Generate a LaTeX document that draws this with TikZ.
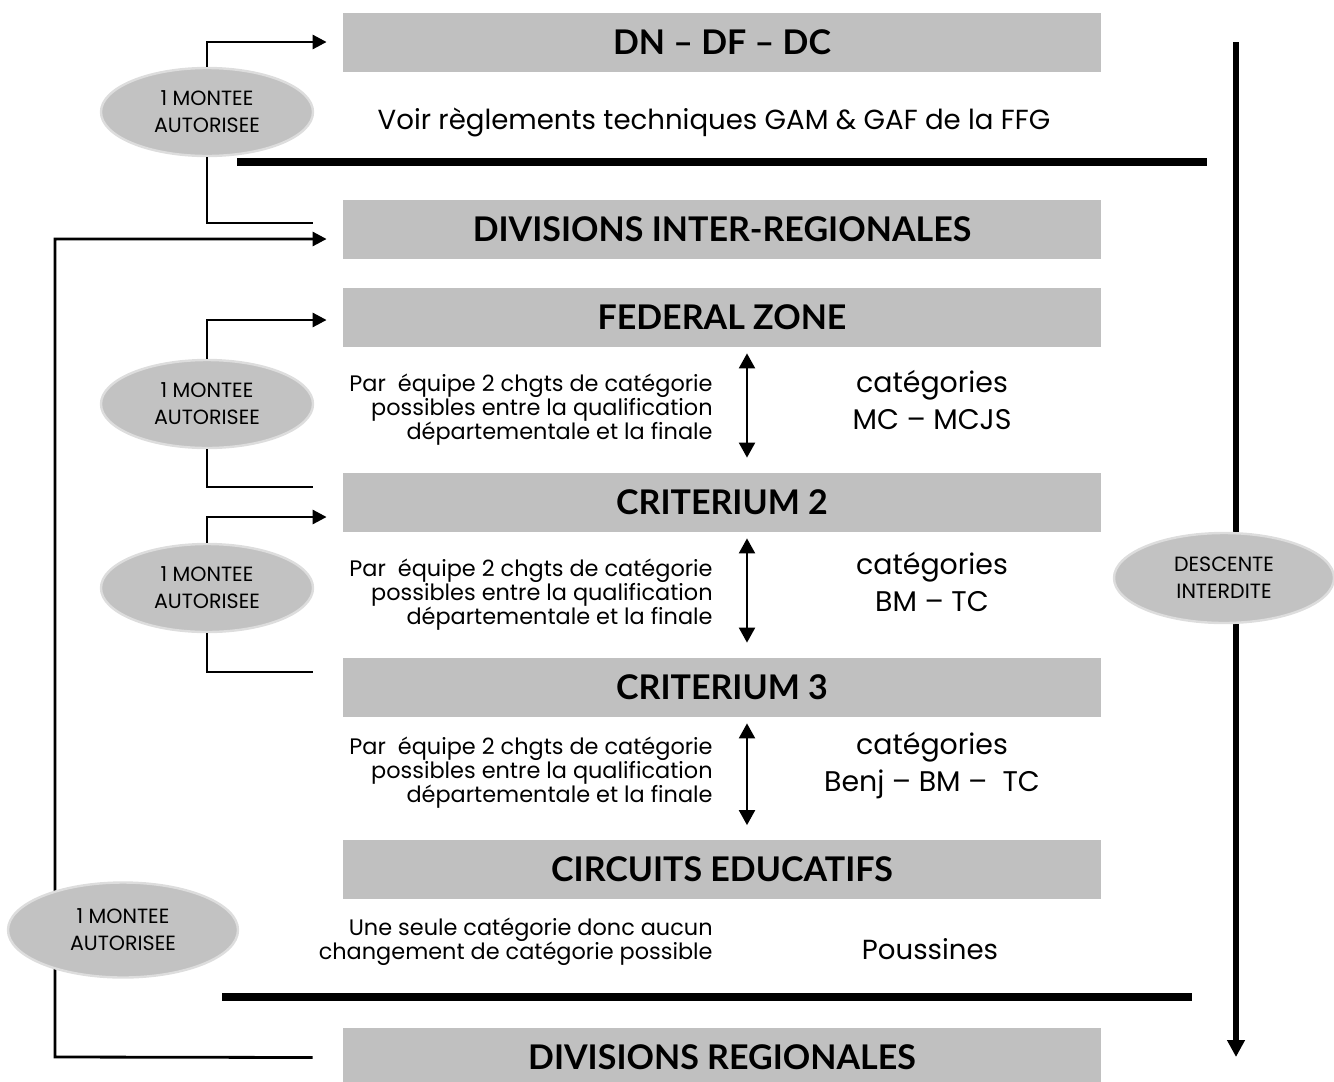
\documentclass[tikz,border=0pt]{standalone}
\usepackage{fontspec}
\setmainfont{Poppins}
\newfontfamily\titlefont{Lato}
\usetikzlibrary{arrows.meta,shapes.geometric}
\definecolor{barg}{HTML}{C0C0C0}
\definecolor{elg}{HTML}{C2C2C2}
\definecolor{elb}{HTML}{DDDDDD}
\begin{document}
\begin{tikzpicture}[x=0.5pt,y=-0.5pt,
 bar/.style={fill=barg,minimum width=379pt,minimum height=29.5pt,inner sep=0pt,font=\titlefont\bfseries\fontsize{17}{20}\selectfont},
 oval/.style={ellipse,fill=elg,draw=elb,line width=1.2pt,minimum width=106pt,minimum height=44pt,inner sep=0pt,align=center,font=\fontsize{10.3}{13.5}\selectfont},
 conn/.style={line width=1.4pt},
 arr/.style={conn,-{Triangle[length=7pt,width=7pt]}},
 sepline/.style={line width=3.6pt},
 small/.style={align=right,anchor=east,inner sep=0pt,font=\fontsize{11.2}{12}\selectfont},
 cat/.style={align=center,inner sep=0pt,font=\fontsize{14.2}{18.5}\selectfont},
 dbl/.style={line width=1.1pt,{Triangle[length=7.5pt,width=8pt]}-{Triangle[length=7.5pt,width=8pt]}},
 desc/.style={line width=3pt,-{Triangle[length=8.5pt,width=8.5pt]}}
]
\useasboundingbox (0,0) rectangle (1334,1082);
% bars
\node[bar] (b1) at (722,42) {DN – DF – DC};
\node[bar] (b2) at (722,229.5) {DIVISIONS INTER-REGIONALES};
\node[bar] (b3) at (722,317.5) {FEDERAL ZONE};
\node[bar] (b4) at (722,502.5) {CRITERIUM 2};
\node[bar] (b5) at (722,687.5) {CRITERIUM 3};
\node[bar] (b6) at (722,869) {CIRCUITS EDUCATIFS};
\node[bar] (b7) at (722,1057.5) {DIVISIONS REGIONALES};
% separators
\draw[sepline] (237,162) -- (1207,162);
\draw[sepline] (222,997) -- (1192,997);
% texts
\node[cat,font=\fontsize{13.8}{18.5}\selectfont] (t0) at (714,122) {Voir règlements techniques GAM \& GAF de la FFG};
\node[small] (s1) at (713,410) {Par\ \ équipe 2 chgts de catégorie\\possibles entre la qualification\\départementale et la finale};
\node[small] (s2) at (713,595) {Par\ \ équipe 2 chgts de catégorie\\possibles entre la qualification\\départementale et la finale};
\node[small] (s3) at (713,773) {Par\ \ équipe 2 chgts de catégorie\\possibles entre la qualification\\départementale et la finale};
\node[small] (s4) at (713,942) {Une seule catégorie donc aucun\\changement de catégorie possible};
\node[cat] (c1) at (932,400) {catégories\\MC – MCJS};
\node[cat] (c2) at (932,582) {catégories\\BM – TC};
\node[cat] (c3) at (932,766) {catégories\\Benj – BM –\ \ TC};
\node[cat,font=\fontsize{13.8}{18.5}\selectfont] (c4) at (930,949) {Poussines};
% double arrows
\draw[dbl] ([xshift=12.5pt,yshift=-3pt]b3.south) -- ([xshift=12.5pt,yshift=7.5pt]b4.north);
\draw[dbl] ([xshift=12.5pt,yshift=-3pt]b4.south) -- ([xshift=12.5pt,yshift=7.5pt]b5.north);
\draw[dbl] ([xshift=12.5pt,yshift=-3pt]b5.south) -- ([xshift=12.5pt,yshift=7pt]b6.north);
% descent arrow
\coordinate (dtop) at (1236,42);
\coordinate (dbot) at (1236,1057);
\draw[desc] (dtop) -- (dbot);
\node[oval,minimum width=110pt,minimum height=45pt] (d) at (1224,578) {DESCENTE\\INTERDITE};
% montee connectors
\coordinate (lbot) at (55,1057);
\draw[arr] ([xshift=-15pt]b7.west) -- (lbot) |- ([xshift=-8pt,yshift=-4.75pt]b2.west);
\node[oval] (e1) at (207,112) {1 MONTEE\\AUTORISEE};
\node[oval] (e2) at (207,404) {1 MONTEE\\AUTORISEE};
\node[oval] (e3) at (207,588) {1 MONTEE\\AUTORISEE};
\node[oval,minimum width=115pt,minimum height=47.5pt] (e4) at (123,930) {1 MONTEE\\AUTORISEE};
\draw[arr] (e1.north) |- ([xshift=-8pt]b1.west);
\draw[conn] (e1.south) |- ([xshift=-15pt,yshift=3.25pt]b2.west);
\draw[arr] (e2.north) |- ([xshift=-8pt,yshift=-1.25pt]b3.west);
\draw[conn] (e2.south) |- ([xshift=-15pt,yshift=7.75pt]b4.west);
\draw[arr] (e3.north) |- ([xshift=-8pt,yshift=-7.25pt]b4.west);
\draw[conn] (e3.south) |- ([xshift=-15pt,yshift=7.75pt]b5.west);
\end{tikzpicture}
\end{document}
